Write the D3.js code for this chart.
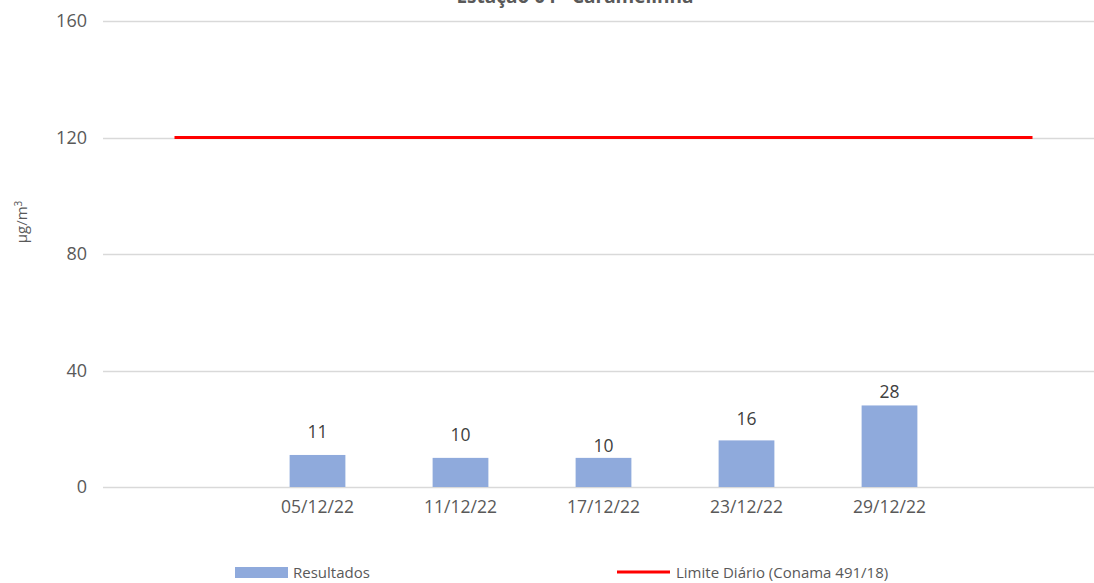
<!DOCTYPE html>
<html>
<head>
<meta charset="utf-8">
<script src="https://cdn.jsdelivr.net/npm/d3@7"></script>
<style>
  html, body { margin: 0; padding: 0; background: #fff; }
  svg text { font-family: "Open Sans", sans-serif; }
</style>
</head>
<body>
<div id="container"></div>
<script>
// chart data
const dates = ["", "05/12/22", "11/12/22", "17/12/22", "23/12/22", "29/12/22", ""];
const resultados = [null, 11, 10, 10, 16, 28, null];
const limite = [120, 120, 120, 120, 120, 120, 120];
const yTicks = [0, 40, 80, 120, 160];
const title = "Estação 04 - Caramelinha";
const yLabel = "µg/m";

document.addEventListener("DOMContentLoaded", function () {
  const w = 1094;
  const h = 583;
  const pad = { top: 21, left: 103, right: -10, bottom: 96 };

  // label lift above bar top (layout only)
  const labelLift = [0, 23, 23, 12, 22, 14, 0];

  const svg = d3
    .select("#container")
    .append("svg")
    .attr("width", w)
    .attr("height", h);

  const x = d3
    .scaleBand()
    .domain(dates.map((d, i) => i))
    .range([pad.left, w - pad.right]);

  const y = d3
    .scaleLinear()
    .domain([0, 160])
    .range([h - pad.bottom, pad.top]);

  const barW = x.bandwidth() * 0.39;

  // gridlines
  svg
    .append("g")
    .selectAll("line")
    .data(yTicks)
    .enter()
    .append("line")
    .attr("x1", pad.left)
    .attr("x2", w - pad.right)
    .attr("y1", (d) => Math.round(y(d)) + 0.5)
    .attr("y2", (d) => Math.round(y(d)) + 0.5)
    .attr("stroke", "#d9d9d9")
    .attr("stroke-width", 1.3);

  // y axis labels
  const yAxis = d3.axisLeft(y).tickValues(yTicks).tickSize(0).tickPadding(16);
  const gy = svg
    .append("g")
    .attr("transform", `translate(${pad.left},0)`)
    .call(yAxis);
  gy.select(".domain").remove();
  gy.selectAll("text")
    .attr("fill", "#595959")
    .style("font-size", "18px");

  // x axis labels
  const xAxis = d3
    .axisBottom(x)
    .tickFormat((i) => dates[i])
    .tickSize(0)
    .tickPadding(14);
  const gx = svg
    .append("g")
    .attr("transform", `translate(0,${h - pad.bottom})`)
    .call(xAxis);
  gx.select(".domain").remove();
  gx.selectAll("text")
    .attr("fill", "#595959")
    .style("font-size", "17.5px");

  const barData = resultados
    .map((v, i) => ({ i: i, v: v }))
    .filter((d) => d.v !== null);

  // bars
  svg
    .append("g")
    .selectAll("rect")
    .data(barData)
    .enter()
    .append("rect")
    .attr("x", (d) => x(d.i) + x.bandwidth() / 2 - barW / 2)
    .attr("width", barW)
    .attr("y", (d) => y(d.v))
    .attr("height", (d) => y(0) - y(d.v))
    .attr("fill", "#8faadc");

  // data labels
  svg
    .append("g")
    .selectAll("text")
    .data(barData)
    .enter()
    .append("text")
    .attr("x", (d) => x(d.i) + x.bandwidth() / 2)
    .attr("y", (d) => y(d.v) - labelLift[d.i])
    .attr("dy", "0.35em")
    .attr("text-anchor", "middle")
    .attr("fill", "#404040")
    .style("font-size", "17.5px")
    .text((d) => d.v);

  // limit line
  const line = d3
    .line()
    .x((d, i) => x(i) + x.bandwidth() / 2)
    .y((d) => y(d));

  svg
    .append("path")
    .datum(limite)
    .attr("d", line)
    .attr("fill", "none")
    .attr("stroke", "#ff0000")
    .attr("stroke-width", 3);

  // title (cut at top, as in the source)
  svg
    .append("text")
    .attr("x", 575)
    .attr("y", 3)
    .attr("text-anchor", "middle")
    .attr("fill", "#595959")
    .style("font-size", "19px")
    .style("font-weight", "bold")
    .text(title);

  // y axis title
  const yt = svg
    .append("text")
    .attr("transform", "translate(27,222) rotate(-90)")
    .attr("text-anchor", "middle")
    .attr("fill", "#595959")
    .style("font-size", "15px");
  yt.append("tspan").text(yLabel);
  yt.append("tspan")
    .attr("dy", "-0.55em")
    .style("font-size", "10px")
    .text("3");

  // legend
  const legend = svg.append("g").attr("transform", "translate(0,573)");
  legend
    .append("rect")
    .attr("x", 235)
    .attr("y", -6)
    .attr("width", 53)
    .attr("height", 11)
    .attr("fill", "#8faadc");
  legend
    .append("text")
    .attr("x", 293)
    .attr("dy", "0.35em")
    .attr("fill", "#595959")
    .style("font-size", "15px")
    .text("Resultados");
  legend
    .append("line")
    .attr("x1", 617)
    .attr("x2", 670)
    .attr("y1", -1)
    .attr("y2", -1)
    .attr("stroke", "#ff0000")
    .attr("stroke-width", 3);
  legend
    .append("text")
    .attr("x", 676)
    .attr("dy", "0.35em")
    .attr("fill", "#595959")
    .style("font-size", "15px")
    .text("Limite Diário (Conama 491/18)");
});
</script>
</body>
</html>
